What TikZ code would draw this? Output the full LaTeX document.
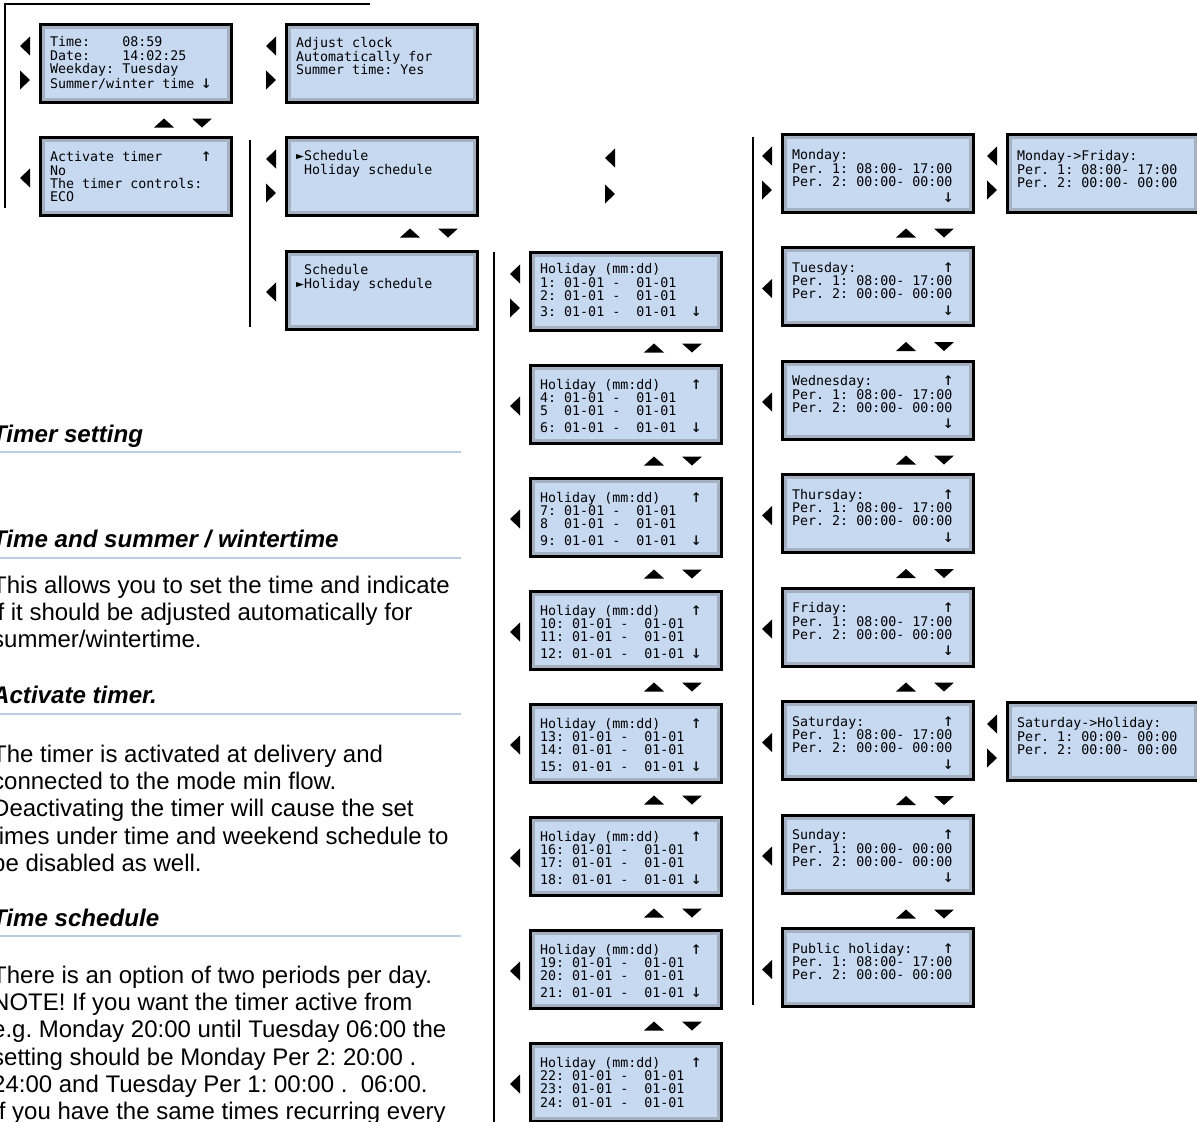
\documentclass[tikz,border=0pt]{standalone}
\usepackage{fontspec}
\setmainfont{Liberation Sans}
\newfontfamily\lcdfont{DejaVu Sans Mono}
\frenchspacing
\definecolor{lcdblue}{RGB}{198,217,241}
\definecolor{bevelcol}{RGB}{165,176,192}
\definecolor{rulecol}{RGB}{184,204,228}
\tikzset{
  lcdbox/.style={rectangle, draw=black, line width=3pt, fill=bevelcol,
    minimum width=191pt, minimum height=78pt, inner sep=0pt, outer sep=0pt,
    anchor=north west,
    path picture={\fill[lcdblue] ([shift={(4.5pt,-4.5pt)}]path picture bounding box.north west)
      rectangle ([shift={(-4.5pt,4.5pt)}]path picture bounding box.south east);}},
  lcdtext/.style={anchor=north west, inner sep=0pt, align=left,
    font=\lcdfont\fontsize{13.3}{13.4}\selectfont},
  vline/.style={line width=2pt, black},
  hrule/.style={line width=2pt, rulecol},
  headtext/.style={anchor=base west, inner sep=0pt, font=\fontsize{24.1}{27.3}\selectfont\bfseries\itshape},
  bodytext/.style={anchor=north west, inner sep=0pt, align=left, font=\fontsize{24}{27.3}\selectfont},
  pics/tril/.style={code={\fill[black] (5,-9.5) -- (5,9.5) -- (-5,0) -- cycle;}},
  pics/trir/.style={code={\fill[black] (-5,-9.5) -- (-5,9.5) -- (5,0) -- cycle;}},
  pics/triu/.style={code={\fill[black] (-10,4.5) -- (10,4.5) -- (0,-4.5) -- cycle;}},
  pics/trid/.style={code={\fill[black] (-10,-4.5) -- (10,-4.5) -- (0,4.5) -- cycle;}},
}
\newcommand\lcdscreen[5]{%
  \node[lcdbox] (#1) at (#2,#3) {};
  \node[lcdtext] (#1t) at ([shift={(10pt,-#4pt)}]#1.north west) {\rule{0pt}{11pt}#5};}
\newcommand\arrLR[1]{%
  \pic at ([shift={(-15pt,-22pt)}]#1.north west) {tril};
  \pic at ([shift={(-15pt,-56pt)}]#1.north west) {trir};}
\newcommand\arrL[1]{\pic at ([shift={(-15pt,-2pt)}]#1.west) {tril};}
\newcommand\arrUD[2]{%
  \pic at ([shift={(124pt,-#2pt)}]#1.south west) {triu};
  \pic at ([shift={(162pt,-#2pt)}]#1.south west) {trid};}
\newcommand\upa{\makebox[8pt][c]{\fontsize{18}{13}\selectfont ↑}}
\newcommand\dna{\makebox[8pt][c]{\fontsize{18}{13}\selectfont ↓}}
\newcommand\downl{\hphantom{0000000000000000000}\dna}
\begin{document}
\begin{tikzpicture}[x=1pt,y=-1pt]
\useasboundingbox (0,0) rectangle (1197,1122);
% structure lines
\draw[vline] (5,208) -- (5,4) -- (370,4);
\draw[vline] (250,140) -- (250,327);
\draw[vline] (494,252) -- (494,1122);
\draw[vline] (753,137) -- (753,1005);
% top screens
\lcdscreen{b1}{40}{24}{11.4}{Time:~~~~08:59\\Date:~~~~14:02:25\\Weekday: Tuesday\\[1.5pt]Summer/winter time \dna}
\lcdscreen{b2}{286}{24}{12.4}{Adjust clock\\Automatically for\\Summer time: Yes}
\lcdscreen{b3}{40}{137}{13.4}{Activate timer~~~~~\upa\\No\\The timer controls:\\ECO}
\lcdscreen{b4}{286}{137}{12.4}{►Schedule\\~Holiday schedule}
\lcdscreen{b5}{286}{251}{12.4}{~Schedule\\►Holiday schedule}
\arrLR{b1}\arrLR{b2}\arrL{b3}\arrLR{b4}\arrL{b5}
\arrUD{b1}{21}\arrUD{b4}{18}
\pic at (610,158) {tril};
\pic at (610,194) {trir};
% holiday column
\lcdscreen{h1}{530}{252}{10.5}{Holiday (mm:dd)\\1: 01-01 -~~01-01\\2: 01-01 -~~01-01\\[3pt]3: 01-01 -~~01-01~~\dna}
\lcdscreen{h2}{530}{365}{12.9}{Holiday (mm:dd)~~~~\upa\\4: 01-01 -~~01-01\\5~~01-01 -~~01-01\\[3pt]6: 01-01 -~~01-01~~\dna}
\lcdscreen{h3}{530}{478}{12.9}{Holiday (mm:dd)~~~~\upa\\7: 01-01 -~~01-01\\8~~01-01 -~~01-01\\[3pt]9: 01-01 -~~01-01~~\dna}
\lcdscreen{h4}{530}{591}{12.9}{Holiday (mm:dd)~~~~\upa\\10: 01-01 -~~01-01\\11: 01-01 -~~01-01\\[3pt]12: 01-01 -~~01-01 \dna}
\lcdscreen{h5}{530}{704}{12.9}{Holiday (mm:dd)~~~~\upa\\13: 01-01 -~~01-01\\14: 01-01 -~~01-01\\[3pt]15: 01-01 -~~01-01 \dna}
\lcdscreen{h6}{530}{817}{12.9}{Holiday (mm:dd)~~~~\upa\\16: 01-01 -~~01-01\\17: 01-01 -~~01-01\\[3pt]18: 01-01 -~~01-01 \dna}
\lcdscreen{h7}{530}{930}{12.9}{Holiday (mm:dd)~~~~\upa\\19: 01-01 -~~01-01\\20: 01-01 -~~01-01\\[3pt]21: 01-01 -~~01-01 \dna}
\lcdscreen{h8}{530}{1043}{12.9}{Holiday (mm:dd)~~~~\upa\\22: 01-01 -~~01-01\\23: 01-01 -~~01-01\\24: 01-01 -~~01-01}
\arrLR{h1}\arrL{h2}\arrL{h3}\arrL{h4}\arrL{h5}\arrL{h6}\arrL{h7}\arrL{h8}
\arrUD{h1}{18}\arrUD{h2}{18}\arrUD{h3}{18}\arrUD{h4}{18}\arrUD{h5}{18}\arrUD{h6}{18}\arrUD{h7}{18}
% day column
\lcdscreen{d1}{782}{134}{14.4}{Monday:\\Per. 1: 08:00- 17:00\\Per. 2: 00:00- 00:00\\[3pt]\downl}
\lcdscreen{d2}{782}{247.5}{13.4}{Tuesday:~~~~~~~~~~~\upa\\Per. 1: 08:00- 17:00\\Per. 2: 00:00- 00:00\\[3pt]\downl}
\lcdscreen{d3}{782}{361}{13.4}{Wednesday:~~~~~~~~~\upa\\Per. 1: 08:00- 17:00\\Per. 2: 00:00- 00:00\\[3pt]\downl}
\lcdscreen{d4}{782}{474.5}{13.4}{Thursday:~~~~~~~~~~\upa\\Per. 1: 08:00- 17:00\\Per. 2: 00:00- 00:00\\[3pt]\downl}
\lcdscreen{d5}{782}{588}{13.4}{Friday:~~~~~~~~~~~~\upa\\Per. 1: 08:00- 17:00\\Per. 2: 00:00- 00:00\\[3pt]\downl}
\lcdscreen{d6}{782}{701.5}{13.4}{Saturday:~~~~~~~~~~\upa\\Per. 1: 08:00- 17:00\\Per. 2: 00:00- 00:00\\[3pt]\downl}
\lcdscreen{d7}{782}{815}{13.4}{Sunday:~~~~~~~~~~~~\upa\\Per. 1: 00:00- 00:00\\Per. 2: 00:00- 00:00\\[3pt]\downl}
\lcdscreen{d8}{782}{928.5}{13.4}{Public holiday:~~~~\upa\\Per. 1: 08:00- 17:00\\Per. 2: 00:00- 00:00}
\arrLR{d1}\arrL{d2}\arrL{d3}\arrL{d4}\arrL{d5}\arrL{d6}\arrL{d7}\arrL{d8}
\arrUD{d1}{21}\arrUD{d2}{21}\arrUD{d3}{21}\arrUD{d4}{21}\arrUD{d5}{21}\arrUD{d6}{21}\arrUD{d7}{21}
% right screens
\lcdscreen{mf}{1007}{134}{15.4}{Monday->Friday:\\Per. 1: 08:00- 17:00\\Per. 2: 00:00- 00:00}
\lcdscreen{sh}{1007}{702}{14.4}{Saturday->Holiday:\\Per. 1: 00:00- 00:00\\Per. 2: 00:00- 00:00}
\arrLR{mf}\arrLR{sh}
% left text column
\node[headtext] (hd1) at (-8,442) {Timer setting};
\draw[hrule] (0,452) -- (461,452);
\node[headtext] (hd2) at (-8,547) {Time and summer / wintertime};
\draw[hrule] (0,558) -- (461,558);
\node[bodytext] (p1) at (-8,571) {\rule{0pt}{22pt}This allows you to set the time and indicate\\if it should be adjusted automatically for\\summer/wintertime.};
\node[headtext] (hd3) at (-8,703) {Activate timer.};
\draw[hrule] (0,714) -- (461,714);
\node[bodytext] (p2) at (-8,740) {\rule{0pt}{22pt}The timer is activated at delivery and\\connected to the mode min flow.\\Deactivating the timer will cause the set\\times under time and weekend schedule to\\be disabled as well.};
\node[headtext] (hd4) at (-8,926) {Time schedule};
\draw[hrule] (0,936) -- (461,936);
\node[bodytext] (p3) at (-8,961) {\rule{0pt}{22pt}There is an option of two periods per day.\\NOTE! If you want the timer active from\\e.g. Monday 20:00 until Tuesday 06:00 the\\setting should be Monday Per 2: 20:00 .\\24:00 and Tuesday Per 1: 00:00 .~~06:00.\\If you have the same times recurring every};
\end{tikzpicture}
\end{document}
